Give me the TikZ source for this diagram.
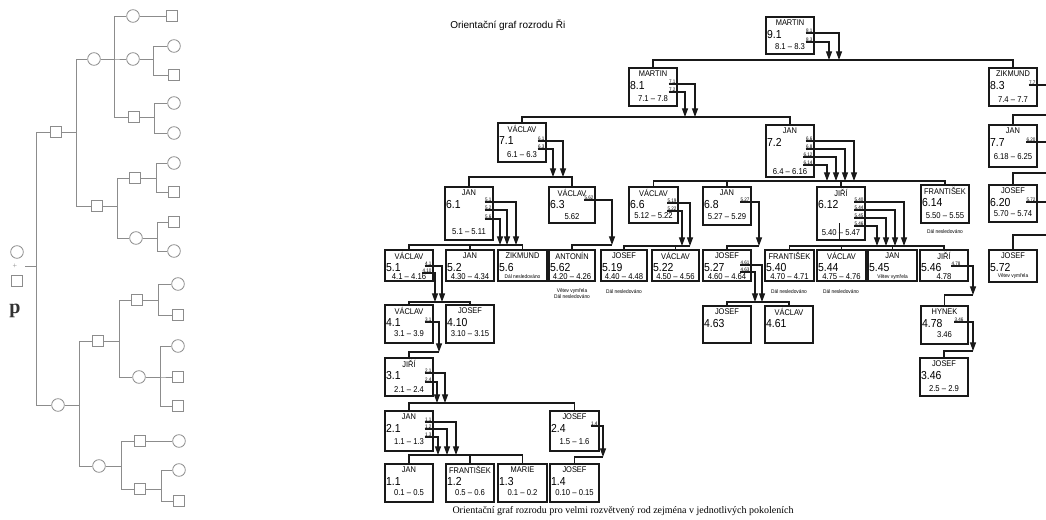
\documentclass[tikz,border=0pt]{standalone}
\usepackage{fontspec}
\setmainfont{Liberation Serif}
\newfontfamily\bxf[FakeStretch=0.9]{Liberation Sans}
\newfontfamily\ttlf{Liberation Sans}
\usetikzlibrary{arrows.meta}
\definecolor{treegray}{gray}{0.55}
\definecolor{ink}{gray}{0.1}
\newcommand\tnf{\bxf\fontsize{4}{4}\selectfont}
\newcommand\person[9]{%
  \node[box, minimum width={(#4-#2)*0.75pt}, minimum height={(#5-#3)*0.75pt}] (#1) at ({(#2+#4)/2},{(#3+#5)/2}) {};
  \node[nm] (#1-n) at ({(#2+#4)/2},{#3+6}) {#6};
  \node[nu] (#1-u) at ({#2+0.8},{#3+17.5}) {#7};
  \node[rg] (#1-r) at ({(#2+#4)/2},#9) {#8};
}
\newcommand\larr[6]{%
  \node[lab] (#1) at (#2,#3) {#4};
  \coordinate (#1t) at (#5,#6);
  \draw[arr] (#1.south west) -| (#1t);
}
\newcommand\ledge[4]{%
  \node[lab] (#1) at (#2,#3) {#4};
  \coordinate (#1t) at (1046,#3);
  \draw[conn] (#1.south west) -- (#1t);
}
\newcommand\pedfam[3]{%
  \coordinate (#1bx) at (#2,0);
  \foreach \c in {#3} {\draw[tl] (#1.east) -- (#1 -| #1bx) |- (\c.west);}
}
\tikzset{
  box/.style={draw=ink, line width=1.05pt, inner sep=0pt},
  nm/.style={font=\bxf\fontsize{6.2}{6.2}\selectfont, inner sep=0pt},
  nu/.style={font=\bxf\fontsize{8.7}{8.7}\selectfont, inner sep=0pt, anchor=west},
  rg/.style={font=\bxf\fontsize{6.4}{6.4}\selectfont, inner sep=0pt},
  lab/.style={font=\bxf\fontsize{3.8}{3.8}\selectfont, inner sep=0.2pt, anchor=south east},
  tn/.style={font=\tnf, inner sep=0pt},
  conn/.style={draw=ink, line width=0.95pt},
  arr/.style={conn, -{Triangle[length=6.5pt,width=4.5pt]}},
  tcirc/.style={circle, draw=treegray, fill=white, line width=0.6pt, minimum size=9.5pt, inner sep=0pt},
  tsq/.style={rectangle, draw=treegray, fill=white, line width=0.6pt, minimum size=8.5pt, inner sep=0pt},
  tl/.style={draw=treegray, line width=0.6pt},
}
\begin{document}
\begin{tikzpicture}[x=0.75pt,y=-0.75pt]
\fill[white] (0,0) rectangle (1046,520);
\useasboundingbox (0,0) rectangle (1046,520);

% ---------------- left pedigree tree ----------------
\node[tcirc] (rc) at (17,252) {};
\node[font=\fontsize{6}{6}\selectfont, text=treegray, inner sep=0pt] (pl) at (15,266) {+};
\node[tsq] (rq) at (17,281) {};
\node[font=\bfseries\fontsize{15}{15}\selectfont, text=black!80, inner sep=0pt] (pp) at (15,311) {p};
\coordinate (rs) at (25,266);
\coordinate (rb) at (36,266);

\node[tsq] (A) at (56,132) {};
\node[tcirc] (A1) at (94,59) {};
\node[tcirc] (A11) at (133,16) {};
\node[tsq] (A11a) at (172,16) {};
\node[tcirc] (A12) at (133,59) {};
\node[tcirc] (A12a) at (174,46) {};
\node[tsq] (A12b) at (174,75) {};
\node[tsq] (A13) at (134,117) {};
\node[tcirc] (A13a) at (174,103) {};
\node[tcirc] (A13b) at (174,133) {};
\node[tsq] (A2) at (97,206) {};
\node[tsq] (A21) at (135,178) {};
\node[tcirc] (A21a) at (174,163) {};
\node[tsq] (A21b) at (174,192) {};
\node[tcirc] (A22) at (136,238) {};
\node[tsq] (A22a) at (174,222) {};
\node[tcirc] (A22b) at (174,251) {};
\node[tcirc] (B) at (58,405) {};
\node[tsq] (B1) at (98,341) {};
\node[tsq] (B11) at (137,300) {};
\node[tcirc] (B11a) at (178,284) {};
\node[tsq] (B11b) at (178,315) {};
\node[tcirc] (B12) at (139,377) {};
\node[tcirc] (B12a) at (178,346) {};
\node[tsq] (B12b) at (178,377) {};
\node[tsq] (B12c) at (178,406) {};
\node[tcirc] (B2) at (99,466) {};
\node[tsq] (B21) at (140,441) {};
\node[tcirc] (B21a) at (179,441) {};
\node[tsq] (B22) at (140,489) {};
\node[tcirc] (B22a) at (179,470) {};
\node[tsq] (B22b) at (179,501) {};

\draw[tl] (rs) -- (rb);
\draw[tl] (rb) |- (A.west);
\draw[tl] (rb) |- (B.west);
\pedfam{A}{76}{A1,A2}
\pedfam{A1}{114}{A11,A12,A13}
\draw[tl] (A11.east) -- (A11a.west);
\pedfam{A12}{153}{A12a,A12b}
\pedfam{A13}{154}{A13a,A13b}
\pedfam{A2}{117}{A21,A22}
\pedfam{A21}{156}{A21a,A21b}
\pedfam{A22}{157}{A22a,A22b}
\pedfam{B}{79}{B1,B2}
\pedfam{B1}{119}{B11,B12}
\pedfam{B11}{158}{B11a,B11b}
\pedfam{B12}{160}{B12a,B12b,B12c}
\pedfam{B2}{121}{B21,B22}
\draw[tl] (B21.east) -- (B21a.west);
\pedfam{B22}{161}{B22a,B22b}

% ---------------- right chart ----------------
\node[font=\ttlf\fontsize{7.5}{7.5}\selectfont, anchor=west, inner sep=0pt] (title) at (450,25) {Orientační graf rozrodu Ři};
\node[font=\fontsize{7.5}{7.5}\selectfont, inner sep=0pt] (caption) at (623,511) {Orientační graf rozrodu pro velmi rozvětvený rod zejména v jednotlivých pokoleních};

\person{m91}{766}{17}{814}{54}{MARTIN}{9.1}{8.1 – 8.3}{47}
\person{m81}{629}{68}{677}{106}{MARTIN}{8.1}{7.1 – 7.8}{99}
\person{z83}{989}{68}{1037}{106}{ZIKMUND}{8.3}{7.4 – 7.7}{100}
\person{v71}{498}{123}{546}{162}{VÁCLAV}{7.1}{6.1 – 6.3}{155}
\person{j72}{766}{125}{814}{177}{JAN}{7.2}{6.4 – 6.16}{172}
\person{j77}{989}{125}{1037}{167}{JAN}{7.7}{6.18 – 6.25}{157}
\person{j61}{445}{187}{493}{240}{JAN}{6.1}{5.1 – 5.11}{232}
\person{v63}{549}{187}{595}{223}{VÁCLAV}{6.3}{5.62}{217}
\person{v66}{629}{187}{678}{223}{VÁCLAV}{6.6}{5.12 – 5.22}{216}
\person{j68}{703}{187}{751}{225}{JAN}{6.8}{5.27 – 5.29}{217}
\person{j612}{817}{187}{865}{240}{JIŘÍ}{6.12}{5.40 – 5.47}{233}
\person{f614}{921}{185}{969}{223}{FRANTIŠEK}{6.14}{5.50 – 5.55}{216}
\person{j620}{989}{185}{1037}{222}{JOSEF}{6.20}{5.70 – 5.74}{214}

\person{v51}{385}{250}{433}{281}{VÁCLAV}{5.1}{4.1 – 4.16}{277}
\person{j52}{446}{250}{494}{281}{JAN}{5.2}{4.30 – 4.34}{277}
\person{z56}{498}{250}{547}{281}{ZIKMUND}{5.6}{\tnf Dál nesledováno}{277}
\person{a562}{549}{250}{595}{281}{ANTONÍN}{5.62}{4.20 – 4.26}{277}
\person{j519}{601}{250}{647}{281}{JOSEF}{5.19}{4.40 – 4.48}{277}
\person{v522}{652}{250}{699}{281}{VÁCLAV}{5.22}{4.50 – 4.56}{277}
\person{j527}{703}{250}{751}{281}{JOSEF}{5.27}{4.60 – 4.64}{277}
\person{f540}{765}{250}{814}{281}{FRANTIŠEK}{5.40}{4.70 – 4.71}{277}
\person{v544}{817}{250}{866}{281}{VÁCLAV}{5.44}{4.75 – 4.76}{277}
\person{j545}{868}{250}{917}{281}{JAN}{5.45}{\tnf Větev vymřela}{277}
\person{j546}{920}{250}{968}{281}{JIŘÍ}{5.46}{4.78}{277}
\person{j572}{989}{250}{1037}{282}{JOSEF}{5.72}{\tnf Větev vymřela}{276}

\person{v41}{385}{305}{433}{343}{VÁCLAV}{4.1}{3.1 – 3.9}{334}
\person{j410}{446}{305}{494}{343}{JOSEF}{4.10}{3.10 – 3.15}{334}
\person{j463}{703}{306}{751}{343}{JOSEF}{4.63}{}{334}
\person{v461}{765}{306}{813}{343}{VÁCLAV}{4.61}{}{334}
\person{h478}{921}{306}{968}{344}{HYNEK}{4.78}{3.46}{335}

\person{j31}{385}{358}{433}{396}{JIŘÍ}{3.1}{2.1 – 2.4}{390}
\person{j346}{920}{358}{968}{396}{JOSEF}{3.46}{2.5 – 2.9}{389}

\person{j21}{385}{411}{433}{451}{JAN}{2.1}{1.1 – 1.3}{442}
\person{j24}{550}{411}{599}{451}{JOSEF}{2.4}{1.5 – 1.6}{442}

\person{j11}{385}{464}{433}{502}{JAN}{1.1}{0.1 – 0.5}{493}
\person{f12}{446}{464}{494}{502}{FRANTIŠEK}{1.2}{0.5 – 0.6}{493}
\person{m13}{498}{464}{547}{502}{MARIE}{1.3}{0.1 – 0.2}{493}
\person{j14}{550}{464}{599}{502}{JOSEF}{1.4}{0.10 – 0.15}{493}

% notes below boxes
\node[tn] (f614-d) at (945,232) {Dál nesledováno};
\node[tn] (a562-d1) at (572,291) {Větev vymřela};
\node[tn] (a562-d2) at (572,297) {Dál nesledováno};
\node[tn] (j519-d) at (624,292) {Dál nesledováno};
\node[tn] (f540-d) at (789,292) {Dál nesledováno};
\node[tn] (v544-d) at (841,292) {Dál nesledováno};
\draw[conn, line width=0.5pt] ([xshift=-1.5pt]j612.south) -- ++(0,-18);

% labels and arrows
\larr{m91a}{813}{33}{8.1}{839}{60}
\larr{m91b}{813}{42}{8.3}{829}{60}
\larr{m81a}{676}{84}{7.1}{695}{117}
\larr{m81b}{676}{92}{7.2}{685}{117}
\ledge{z83a}{1036}{85}{7.7}
\ledge{j77a}{1036}{142}{6.20}
\ledge{j620a}{1036}{202}{5.72}
\larr{v71a}{545}{141}{6.1}{563}{177}
\larr{v71b}{545}{149}{6.3}{553}{177}
\larr{j72a}{813}{141}{6.6}{854}{181}
\larr{j72b}{813}{149}{6.8}{845}{181}
\larr{j72c}{813}{157}{6.12}{836}{181}
\larr{j72d}{813}{165}{6.14}{827}{181}
\larr{j61a}{492}{202}{5.1}{516}{245}
\larr{j61b}{492}{210}{5.2}{507}{245}
\larr{j61c}{492}{219}{5.6}{500}{245}
\larr{v63a}{594}{200}{5.62}{612}{245}
\larr{v66a}{677}{203}{5.19}{690}{246}
\larr{v66b}{677}{211}{5.22}{682}{246}
\larr{j68a}{750}{202}{5.27}{759}{246}
\larr{j612a}{864}{202}{5.40}{904}{246}
\larr{j612b}{864}{210}{5.44}{895}{246}
\larr{j612c}{864}{218}{5.45}{886}{246}
\larr{j612d}{864}{226}{5.46}{877}{246}
\larr{v51a}{432}{266}{4.1}{442}{302}
\larr{v51b}{432}{273}{4.10}{435}{302}
\larr{j527a}{750}{265}{4.61}{762}{302}
\larr{j527b}{750}{272}{4.63}{755}{302}
\larr{j546a}{961}{266}{4.78}{973}{295}
\larr{v41a}{432}{322}{3.1}{439}{352}
\larr{h478a}{964}{322}{3.46}{973}{351}
\larr{j31a}{432}{373}{2.1}{445}{403}
\larr{j31b}{432}{382}{2.4}{437}{403}
\larr{j21a}{432}{422}{1.1}{456}{455}
\larr{j21b}{432}{429}{1.2}{447}{455}
\larr{j21c}{432}{437}{1.3}{438}{455}
\larr{j24a}{598}{426}{1.4}{603}{457}

% family buses
\coordinate (b1) at (0,60);
\draw[conn] (m81.north) |- (z83.north |- b1) -- (z83.north);
\coordinate (b2) at (0,117);
\draw[conn] (v71.north) |- (j72.north |- b2) -- (j72.north);
\coordinate (b3) at (1046,115);
\draw[conn] (j77.north) |- (b3);
\coordinate (b4) at (1046,173);
\draw[conn] (j620.north) |- (b4);
\coordinate (b5) at (1046,235);
\draw[conn] (j572.north) |- (b5);
\coordinate (b6) at (0,177);
\draw[conn] (j61.north) |- (v63.north |- b6) -- (v63.north);
\coordinate (b7) at (0,181);
\draw[conn] (v66.north) |- (f614.north |- b7) -- (f614.north);
\draw[conn] (j68.north) -- (j68.north |- b7);
\draw[conn] (j612.north) -- (j612.north |- b7);
\coordinate (b8) at (0,245);
\draw[conn] (v51.north) |- (z56.north |- b8) -- (z56.north);
\draw[conn] (j52.north) -- (j52.north |- b8);
\draw[conn] (a562.north) |- (v63at);
\draw[conn] (j519.north) |- (v66at);
\draw[conn] (v522.north) -- (v522.north |- v66at);
\draw[conn] (j527.north) |- (j68at);
\coordinate (b12) at (0,246);
\draw[conn] (f540.north) |- (j546.north |- b12) -- (j546.north);
\draw[conn] (v544.north) -- (v544.north |- b12);
\draw[conn] (j545.north) -- (j545.north |- b12);
\coordinate (b13) at (0,302);
\draw[conn] (v41.north) |- (j410.north |- b13) -- (j410.north);
\draw[conn] (j463.north) |- (v461.north |- b13) -- (v461.north);
\draw[conn] (h478.north) |- (j546at);
\draw[conn] (j31.north) |- (v41at);
\draw[conn] (j346.north) |- (h478at);
\coordinate (b18) at (0,403);
\draw[conn] (j21.north) |- (j24.north |- b18) -- (j24.north);
\coordinate (b19) at (0,455);
\draw[conn] (j11.north) |- (m13.north |- b19) -- (m13.north);
\draw[conn] (f12.north) -- (f12.north |- b19);
\draw[conn] (j14.north) |- (j24at);
\end{tikzpicture}
\end{document}
